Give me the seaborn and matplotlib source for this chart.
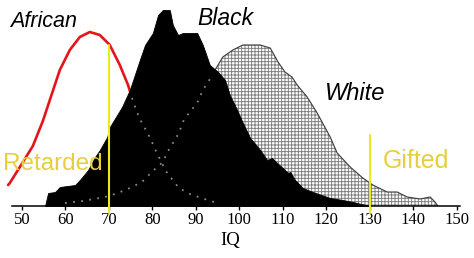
import numpy as np
import pandas as pd
import matplotlib
matplotlib.use("Agg")
import matplotlib.pyplot as plt
import seaborn as sns

# ---- data (relative frequency, arbitrary units) ----
african_iq = [46.8, 47.2, 49.5, 52.5, 54.8, 56.4, 58.7, 61.0, 63.3, 65.6, 67.9, 70.2,
              72.5, 74.4, 75.3, 76.2, 76.9, 77.6, 78.5, 79.7, 80.8, 82.2, 82.9, 84.5,
              86.1, 88.6, 91.2, 94.2]
african_freq = [21, 23, 39, 60, 85, 106, 136, 156, 169, 174, 171, 161,
                141, 121, 108, 97, 89, 83, 76, 66, 55, 43, 36, 27,
                18, 12, 8, 4]

black_iq = [55.3, 56.0, 57.6, 58.7, 60.4, 62.2, 63.3, 65.2, 66.8, 67.9, 69.6, 70.2,
            73.0, 74.8, 77.1, 78.3, 80.1, 81.3, 82.4, 84.0, 84.7, 85.9, 87.0, 90.3,
            91.6, 93.2, 95.1, 96.7, 97.8, 99.5, 100.8, 102.5, 104.8, 106.4, 107.5,
            108.7, 110.0, 111.2, 111.7, 112.8, 114.6, 116.9, 120.9, 123.8, 126.1, 130.1]
black_freq = [0, 13, 14, 19, 20, 21, 26, 36, 49, 56, 69, 79,
              99, 116, 146, 161, 173, 191, 196, 196, 181, 171, 173, 173,
              161, 141, 134, 126, 111, 96, 83, 68, 56, 46, 48,
              43, 38, 33, 34, 26, 18, 14, 8, 6, 4, 0]

white_iq = [57.6, 59.9, 64.0, 69.1, 72.1, 74.8, 77.6, 80.1, 82.4, 83.6, 85.0, 86.1,
            87.0, 88.4, 90.3, 91.4, 92.6, 93.9, 94.4, 96.2, 98.5, 100.8, 104.8, 107.1,
            108.9, 110.5, 112.1, 113.3, 115.6, 117.9, 120.9, 122.5, 125.5, 128.4,
            130.7, 134.0, 136.3, 138.6, 141.6, 143.9, 145.0, 145.7]
white_freq = [0, 3, 5, 9, 13, 18, 24, 35, 44, 55, 65, 73,
              84, 93, 103, 114, 123, 131, 136, 149, 156, 161, 161, 158,
              144, 134, 129, 121, 109, 93, 69, 53, 39, 28,
              21, 14, 14, 9, 7, 9, 4, 0]

iq_ticks = [50, 60, 70, 80, 90, 100, 110, 120, 130, 140, 150]
cutoffs = [70, 130]
cutoff_tops = [161, 71]
group_names = ["African", "Black", "White"]
cutoff_names = ["Retarded", "Gifted"]

african = pd.DataFrame({"IQ": african_iq, "freq": african_freq})
black = pd.DataFrame({"IQ": black_iq, "freq": black_freq})
white = pd.DataFrame({"IQ": white_iq, "freq": white_freq})

sns.set_style("white")
plt.rcParams["hatch.linewidth"] = 0.65
plt.rcParams["text.color"] = "black"

fig = plt.figure(figsize=(4.74, 2.58), dpi=100)
ax = fig.add_axes([0, 52 / 258, 461 / 474, 206 / 258])

# White: hatched fill + outline
ax.fill_between(white["IQ"], 0, white["freq"], facecolor="white", edgecolor="#7d7d7d",
                hatch="+++++", linewidth=0, zorder=1)
sns.lineplot(data=white, x="IQ", y="freq", color="#3a3a3a", linewidth=0.8,
             estimator=None, ax=ax, zorder=1.5)

# African: red curve
sns.lineplot(data=african, x="IQ", y="freq", color="#e5141b", linewidth=1.9,
             estimator=None, ax=ax, zorder=2)

# Black: solid fill
ax.fill_between(black["IQ"], 0, black["freq"], facecolor="black", edgecolor="black",
                linewidth=0.6, zorder=3)

# Hidden continuations shown as dotted lines inside the black area
sns.lineplot(data=african[african["IQ"] >= 75.3], x="IQ", y="freq", color="#8a8a8a",
             linewidth=1.3, linestyle=(0, (1, 3.5)), estimator=None, ax=ax, zorder=4)
sns.lineplot(data=white[(white["IQ"] <= 94) & (white["IQ"] >= 59.9)], x="IQ", y="freq",
             color="#8a8a8a", linewidth=1.3, linestyle=(0, (1, 3.5)), estimator=None,
             ax=ax, zorder=4)

# Cut-off lines
for c, top in zip(cutoffs, cutoff_tops):
    ax.plot([c, c], [-7, top], color="#ecea1c", linewidth=1.5, zorder=5, clip_on=False)

# Labels
ax.text(47.2, 179, group_names[0], fontsize=15.5, style="italic", color="black",
        family="Liberation Sans", ha="left", va="baseline", zorder=6)
ax.text(90.3, 181, group_names[1], fontsize=16.5, style="italic", color="black",
        family="Liberation Sans", ha="left", va="baseline", zorder=6)
ax.text(119.7, 106, group_names[2], fontsize=17, style="italic", color="black",
        family="Liberation Sans", ha="left", va="baseline", zorder=6)
ax.text(45.6, 36, cutoff_names[0], fontsize=17.5, color="#e6cf3a",
        family="Liberation Sans", ha="left", va="baseline", zorder=6)
ax.text(133.0, 38, cutoff_names[1], fontsize=18, color="#e6cf3a",
        family="Liberation Sans", ha="left", va="baseline", zorder=6)

ax.set_xlim(44.94, 150.99)
ax.set_ylim(0, 206)
for s in ["top", "right", "left"]:
    ax.spines[s].set_visible(False)
ax.spines["bottom"].set_bounds(47.7, 150.8)
ax.spines["bottom"].set_linewidth(1.1)
ax.spines["bottom"].set_color("black")
ax.set_yticks([])
ax.set_xticks(iq_ticks)
ax.set_xticklabels([str(t) for t in iq_ticks], family="Liberation Serif", fontsize=12)
ax.tick_params(axis="x", direction="out", length=3, width=1, pad=1, colors="black",
               bottom=True)
ax.set_ylabel("")
ax.set_xlabel("IQ", family="Liberation Serif", fontsize=13.5, labelpad=3, color="black")

fig.savefig("out.png", dpi=100)
